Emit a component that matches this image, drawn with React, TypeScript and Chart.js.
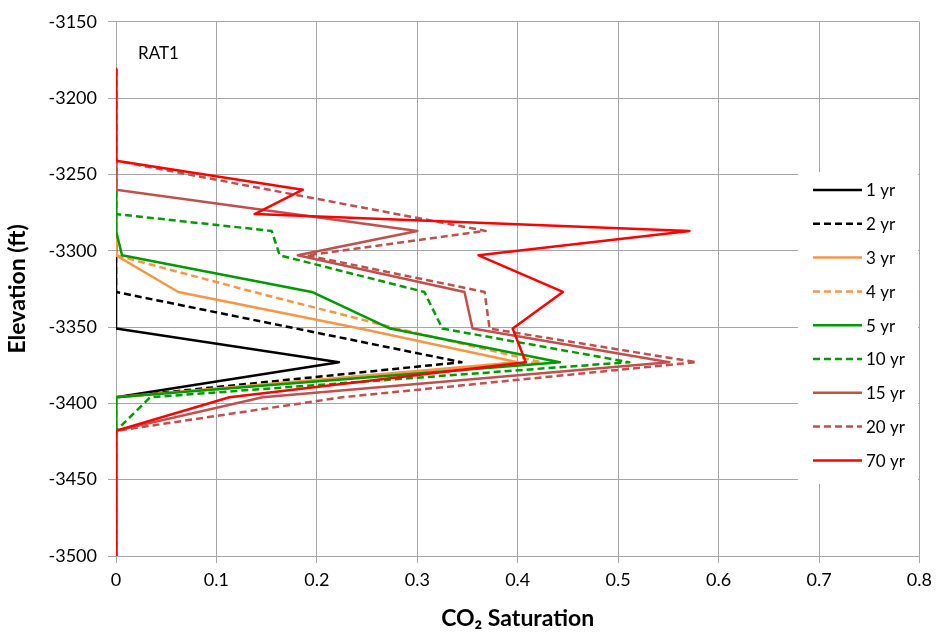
import React, { useEffect, useRef } from "react";
import { Chart, registerables } from "chart.js";

Chart.register(...registerables);

// ---- Data (CO2 saturation vs elevation, ft) ----
const labels = ["1 yr", "2 yr", "3 yr", "4 yr", "5 yr", "10 yr", "15 yr", "20 yr", "70 yr"];

const yr1Elev = [-3181, -3351, -3373, -3396, -3500];
const yr1Sat = [0, 0, 0.222, 0, 0];

const yr2Elev = [-3181, -3327, -3373, -3396, -3500];
const yr2Sat = [0, 0, 0.344, 0, 0];

const yr3Elev = [-3181, -3303, -3327, -3351, -3373, -3396, -3500];
const yr3Sat = [0, 0, 0.062, 0.243, 0.4, 0, 0];

const yr4Elev = [-3181, -3303, -3327, -3351, -3373, -3396, -3500];
const yr4Sat = [0, 0, 0.137, 0.28, 0.423, 0, 0];

const yr5Elev = [-3181, -3287, -3303, -3327, -3351, -3373, -3396, -3500];
const yr5Sat = [0, 0, 0.006, 0.195, 0.273, 0.442, 0, 0];

const yr10Elev = [-3181, -3276, -3287, -3303, -3327, -3351, -3373, -3396, -3418, -3500];
const yr10Sat = [0, 0, 0.155, 0.163, 0.307, 0.325, 0.511, 0.034, 0, 0];

const yr15Elev = [-3181, -3260, -3287, -3303, -3327, -3351, -3373, -3396, -3418, -3500];
const yr15Sat = [0, 0, 0.3, 0.181, 0.347, 0.355, 0.551, 0.146, 0, 0];

const yr20Elev = [-3181, -3241, -3287, -3303, -3327, -3351, -3373, -3396, -3418, -3500];
const yr20Sat = [0, 0, 0.368, 0.19, 0.367, 0.372, 0.578, 0.225, 0, 0];

const yr70Elev = [-3181, -3241, -3260, -3276, -3287, -3303, -3327, -3351, -3373, -3396, -3418, -3500];
const yr70Sat = [0, 0, 0.186, 0.138, 0.571, 0.361, 0.445, 0.395, 0.408, 0.113, 0, 0];

const xTicks = [0, 0.1, 0.2, 0.3, 0.4, 0.5, 0.6, 0.7, 0.8];
const yTicks = [-3500, -3450, -3400, -3350, -3300, -3250, -3200, -3150];

const elevSeries = [yr1Elev, yr2Elev, yr3Elev, yr4Elev, yr5Elev, yr10Elev, yr15Elev, yr20Elev, yr70Elev];
const satSeries = [yr1Sat, yr2Sat, yr3Sat, yr4Sat, yr5Sat, yr10Sat, yr15Sat, yr20Sat, yr70Sat];

const colors = ["#000000", "#000000", "#F79646", "#F79646", "#009A00", "#009A00", "#C0504D", "#C0504D", "#FF0000"];
const dashed = [false, true, false, true, false, true, false, true, false];

const FONT = "Lato, 'Open Sans', sans-serif";
const DASH = [7, 4];
const LW = 2.5;

const overlayPlugin = {
  id: "overlay",
  afterDraw(chart: any) {
    const ctx = chart.ctx;
    const area = chart.chartArea;
    ctx.save();
    // RAT1 label
    ctx.fillStyle = "#000";
    ctx.font = `17px ${FONT}`;
    ctx.textBaseline = "middle";
    ctx.textAlign = "left";
    ctx.fillText("RAT1", area.left + 22, 54);

    // legend box
    const bx = 798, by = 172, bw = 120, bh = 312;
    ctx.fillStyle = "#ffffff";
    ctx.fillRect(bx, by, bw, bh);
    const startY = 190, step = 33.8;
    chart.data.datasets.forEach((ds: any, i: number) => {
      const y = startY + i * step;
      ctx.beginPath();
      ctx.strokeStyle = ds.borderColor;
      ctx.lineWidth = LW;
      ctx.setLineDash(ds.borderDash || []);
      ctx.moveTo(813, y);
      ctx.lineTo(862, y);
      ctx.stroke();
      ctx.setLineDash([]);
      ctx.fillStyle = "#000";
      ctx.font = `17px ${FONT}`;
      ctx.textBaseline = "middle";
      ctx.fillText(ds.label, 866, y + 1);
    });
    ctx.restore();
  },
};

export default function App() {
  const ref = useRef<HTMLCanvasElement | null>(null);

  useEffect(() => {
    if (!ref.current) return;
    const n = labels.length;
    const datasets = labels.map((label, i) => ({
      label,
      data: elevSeries[i].map((e, j) => ({ x: satSeries[i][j], y: e })),
      borderColor: colors[i],
      backgroundColor: colors[i],
      borderWidth: LW,
      borderDash: dashed[i] ? DASH : [],
      borderJoinStyle: "round" as const,
      showLine: true,
      pointRadius: 0,
      pointHoverRadius: 0,
      tension: 0,
      order: n - i,
    }));

    const gridColor = "#A6A6A6";
    const chart = new Chart(ref.current, {
      type: "scatter",
      data: { datasets },
      options: {
        animation: false,
        responsive: false,
        maintainAspectRatio: false,
        layout: { padding: { top: 17, right: 17, left: 0, bottom: 0 } },
        plugins: {
          legend: { display: false },
          tooltip: { enabled: false },
        },
        scales: {
          x: {
            type: "linear",
            min: 0,
            max: 0.8,
            afterBuildTicks: (s: any) => {
              s.ticks = xTicks.map((v) => ({ value: v }));
            },
            afterFit: (s: any) => {
              s.height = 80;
            },
            ticks: {
              color: "#000",
              font: { family: FONT, size: 18 },
              padding: 6,
              callback: (v: any) => String(v),
              maxRotation: 0,
            },
            grid: { color: gridColor, tickLength: 7, lineWidth: 1 },
            border: { color: gridColor, width: 1 },
            title: {
              display: true,
              text: "CO₂ Saturation",
              color: "#000",
              font: { family: FONT, size: 23, weight: "bold" },
              padding: { top: 0, bottom: 4 },
            },
          },
          y: {
            type: "linear",
            min: -3500,
            max: -3150,
            afterBuildTicks: (s: any) => {
              s.ticks = yTicks.map((v) => ({ value: v }));
            },
            afterFit: (s: any) => {
              s.width = 116;
            },
            ticks: {
              color: "#000",
              font: { family: FONT, size: 18 },
              padding: 11,
              callback: (v: any) => String(v),
            },
            grid: { color: gridColor, tickLength: 8, lineWidth: 1 },
            border: { color: gridColor, width: 1 },
            title: {
              display: true,
              text: "Elevation (ft)",
              color: "#000",
              font: { family: FONT, size: 23, weight: "bold" },
              padding: { top: 4, bottom: 0 },
            },
          },
        },
      },
      plugins: [overlayPlugin],
    });
    return () => chart.destroy();
  }, []);

  return (
    <div style={{ position: "absolute", left: 0, top: 0, width: 938, height: 636, background: "#fff" }}>
      <canvas ref={ref} width={938} height={636} style={{ width: 938, height: 636 }} />
    </div>
  );
}
